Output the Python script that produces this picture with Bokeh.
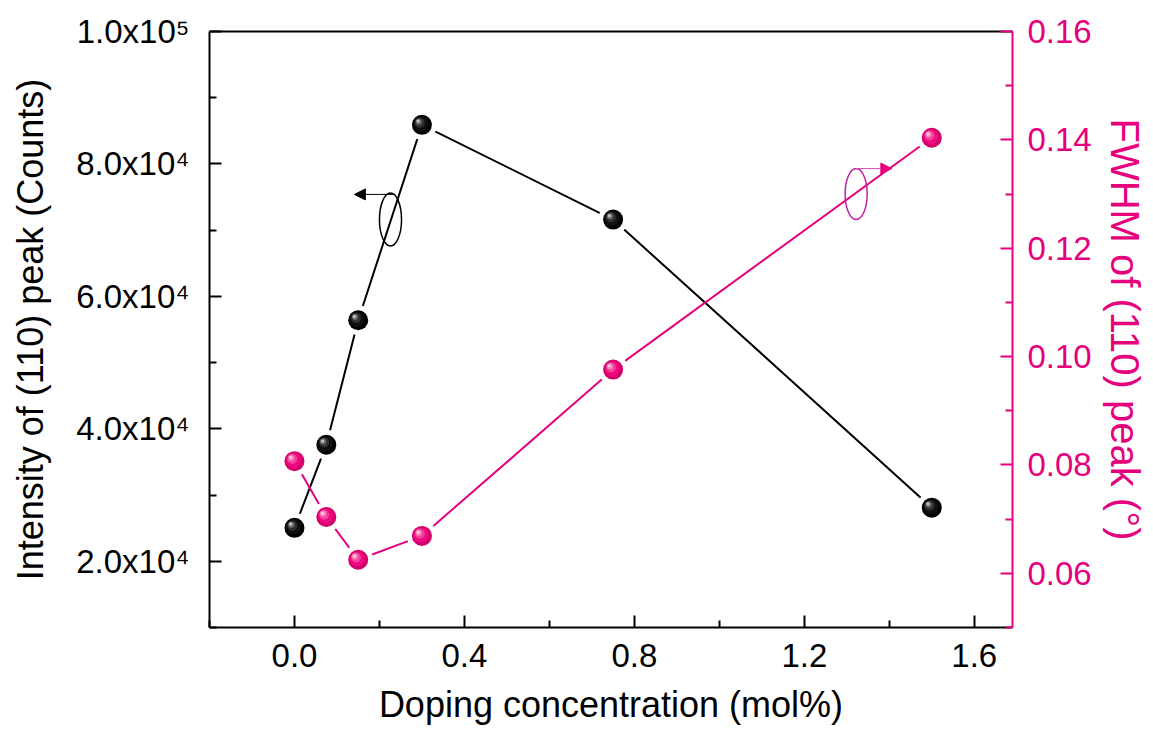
from bokeh.plotting import figure
from bokeh.models import Range1d, LinearAxis, FixedTicker, Arrow, NormalHead
from bokeh.embed import file_html
from bokeh.resources import INLINE

# ---------------- data ----------------
doping = [0.0, 0.075, 0.15, 0.3, 0.75, 1.5]
intensity = [25050, 37600, 56400, 85900, 71600, 28100]
fwhm = [0.0807, 0.0704, 0.0625, 0.0669, 0.0976, 0.1404]

x_ticks = [0.0, 0.4, 0.8, 1.2, 1.6]
x_tick_labels = ["0.0", "0.4", "0.8", "1.2", "1.6"]
x_minor = [-0.2, 0.2, 0.6, 1.0, 1.4]

left_ticks = [20000, 40000, 60000, 80000, 100000]
left_tick_labels = ["2.0x10\u2074", "4.0x10\u2074", "6.0x10\u2074", "8.0x10\u2074", "1.0x10\u2075"]
left_minor = [10000, 30000, 50000, 70000, 90000]

right_ticks = [0.06, 0.08, 0.10, 0.12, 0.14, 0.16]
right_tick_labels = ["0.06", "0.08", "0.10", "0.12", "0.14", "0.16"]
right_minor = [0.05, 0.07, 0.09, 0.11, 0.13, 0.15]

# annotation markers (ellipse + arrow indicating axis)
left_ell = dict(x=0.226, y=71600, w=0.052, h=8000)
left_arrow = dict(x0=0.235, x1=0.141, y=75400)
right_ell = dict(x=1.322, y=0.1300, w=0.052, h=0.0094)
right_arrow = dict(x0=1.322, x1=1.406, y=0.1347)

X0, X1 = -0.2, 1.69
YL0, YL1 = 10000, 100000
YR0, YR1 = 0.05, 0.16

PINK = "#E6007E"
FONT = "Liberation Sans"

W, H = 1153, 734
ML, MR, MT, MB = 209, 141, 31, 107
FW, FH = W - ML - MR, H - MT - MB

p = figure(width=W, height=H, output_backend="svg", toolbar_location=None,
           x_range=Range1d(X0, X1), y_range=Range1d(YL0, YL1),
           min_border_left=ML, min_border_right=MR, min_border_top=MT,
           min_border_bottom=MB, outline_line_color=None)
p.extra_y_ranges = {"fwhm": Range1d(YR0, YR1)}
p.grid.visible = False
p.background_fill_color = "white"
p.border_fill_color = "white"


def style_axis(ax, color, ticks, labels, minor, standoff, lab_standoff, title_size="36px"):
    ax.ticker = FixedTicker(ticks=ticks, minor_ticks=minor)
    ax.major_label_overrides = {t: l for t, l in zip(ticks, labels)}
    ax.axis_line_color = color
    ax.axis_line_width = 2
    ax.major_tick_line_color = color
    ax.minor_tick_line_color = color
    ax.major_tick_line_width = 2
    ax.minor_tick_line_width = 2
    ax.major_tick_in = 12
    ax.major_tick_out = 0
    ax.minor_tick_in = 7
    ax.minor_tick_out = 0
    ax.major_label_text_font = FONT
    ax.major_label_text_font_size = "33px"
    ax.major_label_text_color = color
    ax.major_label_standoff = standoff
    ax.axis_label_text_font = FONT
    ax.axis_label_text_font_size = title_size
    ax.axis_label_text_font_style = "normal"
    ax.axis_label_text_color = color
    ax.axis_label_standoff = lab_standoff


style_axis(p.xaxis[0], "black", x_ticks, x_tick_labels, x_minor, 16, 14)
p.xaxis[0].axis_label = "Doping concentration (mol%)"
style_axis(p.yaxis[0], "black", left_ticks, left_tick_labels, left_minor, 20, 22)
p.yaxis[0].axis_label = "Intensity of (110) peak (Counts)"

ry = LinearAxis(y_range_name="fwhm")
style_axis(ry, PINK, right_ticks, right_tick_labels, right_minor, 15, 8, "40px")
ry.axis_label = "FWHM of (110) peak (\u00b0)"
p.add_layout(ry, "right")

top = LinearAxis(major_tick_in=0, major_tick_out=0, minor_tick_in=0, minor_tick_out=0,
                 major_label_text_font_size="0px", axis_line_width=2,
                 axis_line_color="black", major_label_standoff=0)
top.ticker = FixedTicker(ticks=[])
p.add_layout(top, "above")

# lines
p.line(doping, intensity, line_color="black", line_width=2)
p.line(doping, fwhm, line_color=PINK, line_width=2, y_range_name="fwhm")

# white halos to create the gap between line ends and markers
p.scatter(doping, intensity, size=30, fill_color="white", line_color=None)
p.scatter(doping, fwhm, size=30, fill_color="white", line_color=None, y_range_name="fwhm")

# spherical-looking markers (layers of lighter discs shifted up-left)
dxp = (X1 - X0) / FW
dyl = (YL1 - YL0) / FH
dyr = (YR1 - YR0) / FH

black_layers = [(20, "#000000", 0), (15, "#101010", 1.0), (10, "#303030", 2.2),
                (6, "#707070", 3.2), (3, "#c8c8c8", 3.8)]
pink_layers = [(20, "#D4006A", 0), (15, "#EC0A7E", 1.0), (10, "#F4409A", 2.2),
               (6, "#F984BC", 3.2), (3, "#FFD0E6", 3.8)]

for s, c, off in black_layers:
    p.scatter([x - off * dxp for x in doping], [v + off * dyl for v in intensity],
              size=s, fill_color=c, line_color=None)
for s, c, off in pink_layers:
    p.scatter([x - off * dxp for x in doping], [v + off * dyr for v in fwhm],
              size=s, fill_color=c, line_color=None, y_range_name="fwhm")

# axis indicator ellipses and arrows
p.ellipse(x=[left_ell["x"]], y=[left_ell["y"]], width=[left_ell["w"]], height=[left_ell["h"]],
          fill_color=None, line_color="black", line_width=1.5)
p.add_layout(Arrow(x_start=left_arrow["x0"], x_end=left_arrow["x1"],
                   y_start=left_arrow["y"], y_end=left_arrow["y"],
                   line_color="black", line_width=1,
                   end=NormalHead(size=11, fill_color="black", line_color="black")))

p.ellipse(x=[right_ell["x"]], y=[right_ell["y"]], width=[right_ell["w"]], height=[right_ell["h"]],
          fill_color=None, line_color="#C020A0", line_width=1.5, y_range_name="fwhm")
p.add_layout(Arrow(x_start=right_arrow["x0"], x_end=right_arrow["x1"],
                   y_start=right_arrow["y"], y_end=right_arrow["y"],
                   line_color="#D050B0", line_width=1, y_range_name="fwhm",
                   end=NormalHead(size=11, fill_color=PINK, line_color=PINK)))

open("out.html", "w").write(file_html(p, INLINE))
